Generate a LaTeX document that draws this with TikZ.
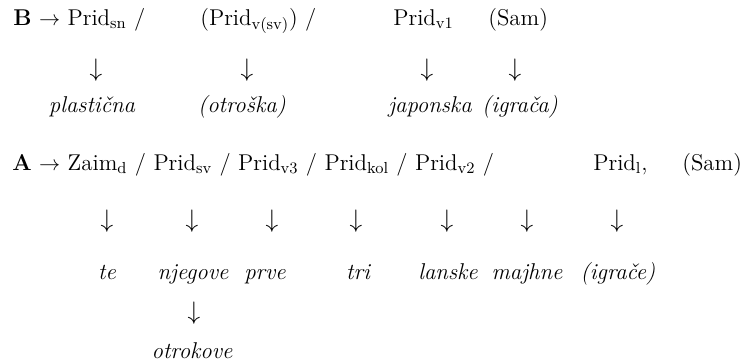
\documentclass[tikz,border=0pt]{standalone}
\usepackage{amsmath,amssymb}
\usepackage{tikz}
\usetikzlibrary{positioning}

\newcommand{\bodyfont}{\fontsize{13}{16}\selectfont}
\newcommand{\lo}[1]{\textsubscript{#1}}
\tikzset{
  cat/.style={anchor=base west, inner sep=0pt, font=\bodyfont},
  word/.style={anchor=base, inner sep=0pt, font=\bodyfont\itshape},
  dn/.style={anchor=center, inner sep=0pt, font=\fontsize{15}{18}\selectfont},
}

\begin{document}
\begin{tikzpicture}[x=0.02cm, y=-0.02cm]
        \useasboundingbox (0,0) rectangle (748,362);

        % row B
        \node[cat] (bsn) at (13,25) {\textbf{B} $\rightarrow$ Prid\lo{sn} /};
        \node[cat] (bvsv) at (200,25) {(Prid\lo{v(sv)}) /};
        \node[cat] (bv1) at (393,25) {Prid\lo{v1}};
        \node[cat] (bsam) at (488,25) {(Sam)};

        \node[dn] (ab1) at (96,70) {$\downarrow$};
        \node[dn] (ab2) at (247,70) {$\downarrow$};
        \node[dn] (ab3) at (427,70) {$\downarrow$};
        \node[dn] (ab4) at (515,70) {$\downarrow$};

        \node[word] (wplast) at (92,112) {plastična};
        \node[word] (wotr) at (242,112) {(otroška)};
        \node[word] (wjap) at (430,112) {japonska};
        \node[word] (wigra) at (520,112) {(igrača)};

        % row A
        \node[cat] (azaim) at (12,170) {\textbf{A} $\rightarrow$ Zaim\lo{d} / Prid\lo{sv} / Prid\lo{v3} / Prid\lo{kol} / Prid\lo{v2} /};
        \node[cat] (al) at (593,170) {Prid\lo{l},};
        \node[cat] (asam) at (682,170) {(Sam)};

        \node[dn] (aa1) at (107,221) {$\downarrow$};
        \node[dn] (aa2) at (192,221) {$\downarrow$};
        \node[dn] (aa3) at (272,221) {$\downarrow$};
        \node[dn] (aa4) at (356,221) {$\downarrow$};
        \node[dn] (aa5) at (447,221) {$\downarrow$};
        \node[dn] (aa6) at (527,221) {$\downarrow$};
        \node[dn] (aa7) at (617,221) {$\downarrow$};

        \node[word] (wte) at (107,279) {te};
        \node[word] (wnjeg) at (193,279) {njegove};
        \node[word] (wprve) at (265,279) {prve};
        \node[word] (wtri) at (358,279) {tri};
        \node[word] (wlan) at (448,279) {lanske};
        \node[word] (wmaj) at (527,279) {majhne};
        \node[word] (wigrc) at (618,279) {(igrače)};

        \node[dn] (aa8) at (194,313) {$\downarrow$};
        \node[word] (wotrk) at (192,358) {otrokove};
\end{tikzpicture}
\end{document}
